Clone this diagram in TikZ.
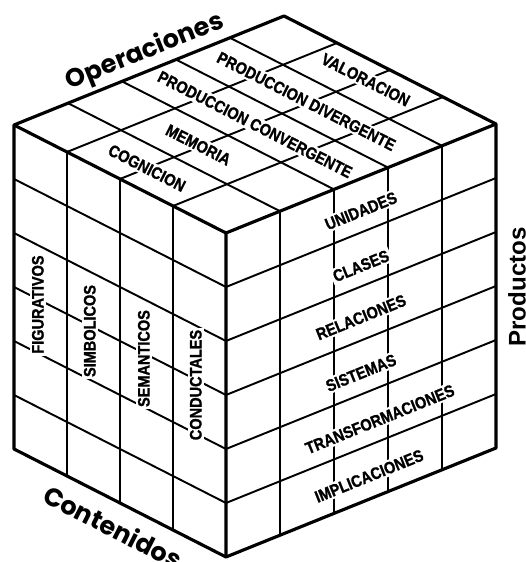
\documentclass[tikz,border=0pt]{standalone}
\usepackage{fontspec}
\setmainfont{Liberation Sans}
\newfontfamily\geofont{Poppins}
\newfontfamily\cellfont[FakeStretch=0.87,FakeBold=1.2]{Liberation Sans}

\begin{document}
\begin{tikzpicture}[x=1cm,y=1cm]
\tikzset{
  gridline/.style={line width=1.1pt},
  edgeline/.style={line width=1.8pt,line join=round},
  celltext/.style={fill=white,inner sep=1.2pt,font=\cellfont\bfseries\fontsize{9.5}{9.5}\selectfont},
  titletext/.style={font=\geofont\bfseries\fontsize{14.5}{14.5}\selectfont}
}
\useasboundingbox (0,0) rectangle (10.52,11.24);
\begin{scope}[shift={(4.52,0.10)},x={(1.08cm,0.436cm)},y={(0cm,1.08cm)},z={(-1.06cm,0.54cm)}]
% right face
\draw[gridline] (1,0,0) -- (1,6,0) (2,0,0) -- (2,6,0) (3,0,0) -- (3,6,0) (4,0,0) -- (4,6,0);
\draw[gridline] (0,1,0) -- (5,1,0) (0,2,0) -- (5,2,0) (0,3,0) -- (5,3,0) (0,4,0) -- (5,4,0) (0,5,0) -- (5,5,0);
% left face
\draw[gridline] (0,0,1) -- (0,6,1) (0,0,2) -- (0,6,2) (0,0,3) -- (0,6,3);
\draw[gridline] (0,1,0) -- (0,1,4) (0,2,0) -- (0,2,4) (0,3,0) -- (0,3,4) (0,4,0) -- (0,4,4) (0,5,0) -- (0,5,4);
% top face
\draw[gridline] (1,6,0) -- (1,6,4) (2,6,0) -- (2,6,4) (3,6,0) -- (3,6,4) (4,6,0) -- (4,6,4);
\draw[gridline] (0,6,1) -- (5,6,1) (0,6,2) -- (5,6,2) (0,6,3) -- (5,6,3);

\node[celltext,rotate=-27] (op_cog) at (0.5,6,2) {COGNICION};
\node[celltext,rotate=-27] (op_mem) at (1.5,6,2.05) {MEMORIA};
\node[celltext,rotate=-27] (op_conv) at (2.5,6,2) {PRODUCCION CONVERGENTE};
\node[celltext,rotate=-27] (op_div) at (3.5,6,2.05) {PRODUCCION DIVERGENTE};
\node[celltext,rotate=-27] (op_val) at (4.55,6,2) {VALORACION};

\node[celltext,rotate=22] (pr_uni) at (2.5,5.4,0) {UNIDADES};
\node[celltext,rotate=22] (pr_cla) at (2.5,4.38,0) {CLASES};
\node[celltext,rotate=22] (pr_rel) at (2.5,3.43,0) {RELACIONES};
\node[celltext,rotate=22] (pr_sis) at (2.5,2.4,0) {SISTEMAS};
\node[celltext,rotate=22] (pr_tra) at (2.85,1.4,0) {TRANSFORMACIONES};
\node[celltext,rotate=22] (pr_imp) at (2.65,0.43,0) {IMPLICACIONES};

\node[celltext,rotate=90] (co_fig) at (0,2.9,3.55) {FIGURATIVOS};
\node[celltext,rotate=90] (co_sim) at (0,2.9,2.57) {SIMBOLICOS};
\node[celltext,rotate=90] (co_sem) at (0,2.9,1.55) {SEMANTICOS};
\node[celltext,rotate=90] (co_con) at (0,2.9,0.57) {CONDUCTALES};

% outline
\draw[edgeline] (0,0,0) -- (5,0,0) -- (5,6,0) -- (5,6,4) -- (0,6,4) -- (0,0,4) -- cycle;
\draw[edgeline] (0,0,0) -- (0,6,0) (5,6,0) -- (0,6,0) -- (0,6,4);
\end{scope}

\node[titletext,rotate=22] (t_ops) at (2.90,10.20) {Operaciones};
\node[titletext,rotate=-27] (t_cont) at (2.26,0.70) {Contenidos};
\node[font=\bfseries\fontsize{13.7}{13.7}\selectfont,rotate=90] (t_prod) at (10.34,5.50) {Productos};
\end{tikzpicture}
\end{document}
